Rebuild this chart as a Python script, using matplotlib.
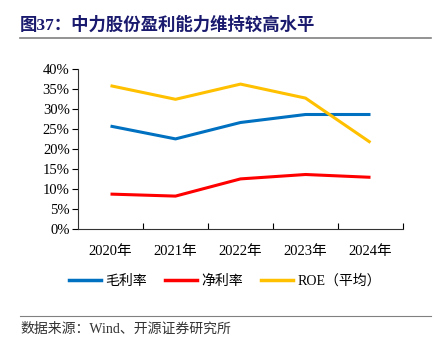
import matplotlib
matplotlib.use("Agg")
import matplotlib.pyplot as plt
from matplotlib.lines import Line2D

plt.rcParams['font.family'] = ['Liberation Serif', 'Noto Sans CJK SC']

# Data
years = ['2020年', '2021年', '2022年', '2023年', '2024年']
gross_margin = [25.8, 22.6, 26.7, 28.7, 28.7]
net_margin = [8.8, 8.3, 12.6, 13.7, 13.0]
roe = [35.9, 32.5, 36.3, 32.8, 21.7]
series_names = ['毛利率', '净利率', 'ROE（平均）']
colors = ['#0070C0', '#FF0000', '#FFC000']

W, H = 436, 352
fig = plt.figure(figsize=(W / 100, H / 100), dpi=100)
ax = fig.add_axes([78 / W, (H - 229.3) / H, (403 - 78) / W, 160 / H])

x = range(len(years))
for vals, c in zip([gross_margin, net_margin, roe], colors):
    ax.plot(x, vals, color=c, lw=2.2, solid_capstyle='butt')

ax.set_xlim(-0.5, len(years) - 0.5)
ax.set_ylim(0, 40)
ax.set_yticks(range(0, 41, 5))
ax.set_yticklabels([f'{v}%' for v in range(0, 41, 5)], fontsize=10.5)
ax.set_xticks(list(x))
ax.set_xticklabels(years, fontsize=10.5)
ax.set_xticks([i + 0.5 for i in x], minor=True)
ax.tick_params(axis='x', which='major', length=0, pad=11)
ax.tick_params(axis='x', which='minor', direction='in', length=4, width=0.8)
ax.tick_params(axis='y', direction='out', length=4, width=0.8, pad=2)
for s in ['top', 'right']:
    ax.spines[s].set_visible(False)
for s in ['left', 'bottom']:
    ax.spines[s].set_linewidth(0.8)
    ax.spines[s].set_color('#333333')

handles = [Line2D([0], [0], color=c, lw=2.5) for c in colors]
fig.legend(handles, series_names, loc='center', bbox_to_anchor=(225 / W, 1 - 281 / H),
           ncol=3, frameon=False, fontsize=10, handlelength=2.3,
           handletextpad=0.3, columnspacing=1.3)

# Title, separators and source
fig.text(20 / W, 1 - 25 / H, '图37：中力股份盈利能力维持较高水平', fontsize=12.5,
         fontweight='bold', color='#1A1A6E', va='center', ha='left')
fig.add_artist(Line2D([20 / W, 431 / W], [1 - 38 / H] * 2, color='#808080', lw=1.2))
fig.add_artist(Line2D([20 / W, 431 / W], [1 - 316 / H] * 2, color='#808080', lw=0.8))
fig.text(20 / W, 1 - 329 / H, '数据来源：Wind、开源证券研究所', fontsize=10,
         color='#333333', va='center', ha='left')

fig.savefig('out.png', dpi=100)
